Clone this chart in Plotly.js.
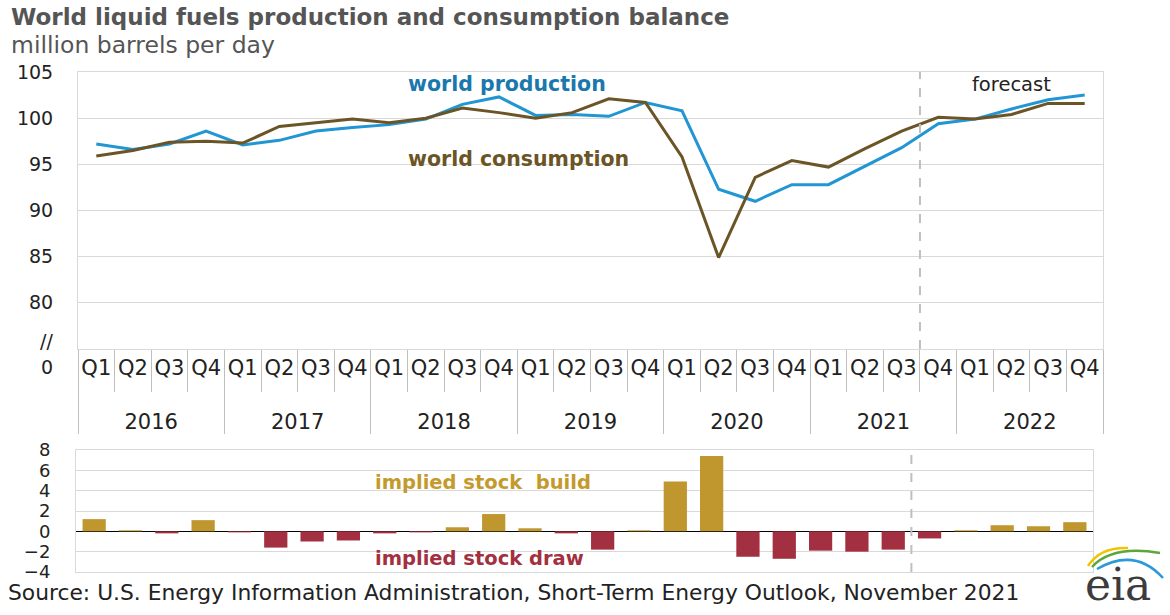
<!DOCTYPE html>
<html>
<head>
<meta charset="utf-8">
<script src="https://cdn.plot.ly/plotly-3.0.1.min.js"></script>
<style>
html,body{margin:0;padding:0;background:#fff;}
#chart{width:1170px;height:615px;}
</style>
</head>
<body>
<div id="chart"></div>
<script>
// ---- data ----
const years = ['2016','2016','2016','2016','2017','2017','2017','2017','2018','2018','2018','2018',
  '2019','2019','2019','2019','2020','2020','2020','2020','2021','2021','2021','2021','2022','2022','2022','2022'];
const quarters = ['Q1','Q2','Q3','Q4','Q1','Q2','Q3','Q4','Q1','Q2','Q3','Q4','Q1','Q2','Q3','Q4',
  'Q1','Q2','Q3','Q4','Q1','Q2','Q3','Q4','Q1','Q2','Q3','Q4'];
const production = [97.2, 96.6, 97.2, 98.6, 97.1, 97.6, 98.6, 99.0, 99.3, 99.9, 101.5, 102.3,
  100.3, 100.4, 100.2, 101.7, 100.8, 92.3, 91.0, 92.8, 92.8, 94.8, 96.8, 99.4, 99.9, 101.0, 102.0, 102.5];
const consumption = [95.9, 96.5, 97.4, 97.5, 97.3, 99.1, 99.5, 99.9, 99.5, 100.0, 101.1, 100.6,
  100.0, 100.6, 102.1, 101.7, 95.8, 84.9, 93.6, 95.4, 94.7, 96.7, 98.6, 100.1, 99.9, 100.4, 101.6, 101.6];
const stockChange = [1.2, 0.1, -0.2, 1.1, -0.1, -1.6, -1.0, -0.9, -0.2, -0.1, 0.4, 1.7,
  0.3, -0.2, -1.8, 0.1, 4.9, 7.4, -2.5, -2.7, -1.9, -2.0, -1.8, -0.7, 0.1, 0.6, 0.5, 0.9];
const topTicks = [80, 85, 90, 95, 100, 105];
const forecastBoundary = 22.5; // between 2021 Q3 and 2021 Q4

// ---- styles ----
const BLUE = '#2196d3', BROWN = '#6b5526', GOLD = '#c0962e', RED = '#a33040';
const GRID = '#d9d9d9', FONT = 'DejaVu Sans, Arial, sans-serif';

// page pixel -> paper helpers (for decorative text placement)
const M = {l:76, r:67, t:72, b:43};
const W = 1170 - M.l - M.r, H = 615 - M.t - M.b;
const px = v => (v - M.l) / W;
const py = v => (615 - M.b - v) / H;

// year row is pushed one line lower (blank first line) to sit below the quarter row
const yearRow = years.map(y => '<br>' + y);
const cat = [yearRow, quarters];
const catRange = [-0.5, quarters.length - 0.5];

const traces = [
  {x: cat, y: production, type: 'scatter', mode: 'lines', name: 'world production',
   line: {color: BLUE, width: 3}, xaxis: 'x', yaxis: 'y', hoverinfo: 'y'},
  {x: cat, y: consumption, type: 'scatter', mode: 'lines', name: 'world consumption',
   line: {color: BROWN, width: 3}, xaxis: 'x', yaxis: 'y', hoverinfo: 'y'},
  {x: cat, y: stockChange, type: 'bar', name: 'implied stock change',
   marker: {color: stockChange.map(v => v >= 0 ? GOLD : RED)},
   xaxis: 'x2', yaxis: 'y2', hoverinfo: 'y'}
];

const layout = {
  width: 1170, height: 615,
  margin: M,
  paper_bgcolor: '#fff', plot_bgcolor: '#fff',
  showlegend: false,
  bargap: 0.36,
  font: {family: FONT, color: '#222'},
  title: {text: '<b>World liquid fuels production and consumption balance</b>',
    font: {family: FONT, size: 23, color: '#555'},
    xref: 'container', yref: 'container', x: 11/1170, xanchor: 'left', y: 1 - 17/615, yanchor: 'middle'},
  xaxis: {type: 'multicategory', domain: [px(78), 1], anchor: 'y', range: catRange,
    tickson: 'boundaries', ticks: 'outside', ticklen: 42, tickcolor: '#bfbfbf', tickwidth: 1,
    tickangle: 0,
    showdividers: true, dividercolor: '#bfbfbf', dividerwidth: 1,
    showgrid: false, showline: true, mirror: true, linecolor: GRID, linewidth: 1,
    tickfont: {family: FONT, size: 21, color: '#222'}},
  yaxis: {domain: [py(349), 1], anchor: 'x', range: [75, 105], tickvals: topTicks,
    showgrid: true, gridcolor: GRID, gridwidth: 1, zeroline: false,
    showline: true, mirror: true, linecolor: GRID, linewidth: 1,
    ticks: '', ticklabelstandoff: 20,
    tickfont: {family: FONT, size: 19, color: '#222'}},
  xaxis2: {type: 'multicategory', domain: [0, px(1093)], anchor: 'y2', range: catRange,
    showticklabels: false, ticks: '', showdividers: false, showgrid: false,
    showline: true, mirror: true, linecolor: GRID, linewidth: 1},
  yaxis2: {domain: [0, py(450)], anchor: 'x2', range: [-4, 8], dtick: 2,
    showgrid: true, gridcolor: GRID, gridwidth: 1,
    zeroline: true, zerolinecolor: '#000', zerolinewidth: 1,
    showline: true, mirror: true, linecolor: GRID, linewidth: 1,
    ticks: '', ticklabelstandoff: 21,
    tickfont: {family: FONT, size: 18, color: '#222'}},
  shapes: [
    {type: 'line', xref: 'x', yref: 'y', x0: forecastBoundary, x1: forecastBoundary, y0: 75, y1: 105,
     line: {color: '#bfbfbf', width: 2, dash: 'dash'}},
    {type: 'line', xref: 'x2', yref: 'y2', x0: forecastBoundary, x1: forecastBoundary, y0: -4, y1: 8,
     line: {color: '#bfbfbf', width: 2, dash: 'dash'}},
    // eia logo arcs
    {type: 'path', xref: 'paper', yref: 'paper', layer: 'above',
     path: `M ${px(1088)} ${py(566)} Q ${px(1100)} ${py(547)} ${px(1128)} ${py(548)}`,
     line: {color: '#f2c300', width: 2.5}},
    {type: 'path', xref: 'paper', yref: 'paper', layer: 'above',
     path: `M ${px(1092)} ${py(567)} Q ${px(1112)} ${py(545)} ${px(1160)} ${py(553)}`,
     line: {color: '#5aa83a', width: 2.5}},
    {type: 'path', xref: 'paper', yref: 'paper', layer: 'above',
     path: `M ${px(1097)} ${py(569)} Q ${px(1135)} ${py(547)} ${px(1163)} ${py(578)}`,
     line: {color: '#2a9bd8', width: 2.5}}
  ],
  annotations: [
    {text: 'million barrels per day', xref: 'paper', yref: 'paper', x: px(9), y: py(45),
     xanchor: 'left', yanchor: 'middle', showarrow: false, font: {family: FONT, size: 23.5, color: '#555'}},
    {text: '//', xref: 'paper', yref: 'paper', x: px(55), y: py(341),
     xanchor: 'right', yanchor: 'middle', showarrow: false, font: {family: FONT, size: 19, color: '#222'}},
    {text: '0', xref: 'paper', yref: 'paper', x: px(55), y: py(367),
     xanchor: 'right', yanchor: 'middle', showarrow: false, font: {family: FONT, size: 19, color: '#222'}},
    {text: '<b>world production</b>', xref: 'paper', yref: 'paper', x: px(406), y: py(84),
     xanchor: 'left', yanchor: 'middle', showarrow: false, font: {family: FONT, size: 20.5, color: '#1a78ad'}},
    {text: '<b>world consumption</b>', xref: 'paper', yref: 'paper', x: px(406), y: py(159),
     xanchor: 'left', yanchor: 'middle', showarrow: false, font: {family: FONT, size: 20.5, color: BROWN}},
    {text: 'forecast', xref: 'paper', yref: 'paper', x: px(1011), y: py(84),
     xanchor: 'center', yanchor: 'middle', showarrow: false, font: {family: FONT, size: 19.5, color: '#222'}},
    {text: '<b>implied stock  build</b>', xref: 'paper', yref: 'paper', x: px(373), y: py(482),
     xanchor: 'left', yanchor: 'middle', showarrow: false, font: {family: FONT, size: 19.5, color: '#c49a2c'}},
    {text: '<b>implied stock draw</b>', xref: 'paper', yref: 'paper', x: px(373), y: py(558),
     xanchor: 'left', yanchor: 'middle', showarrow: false, font: {family: FONT, size: 19.5, color: RED}},
    {text: 'Source: U.S. Energy Information Administration, Short-Term Energy Outlook, November 2021',
     xref: 'paper', yref: 'paper', x: px(6), y: py(592), xanchor: 'left', yanchor: 'middle',
     showarrow: false, font: {family: FONT, size: 21.8, color: '#222'}},
    {text: 'eia', xref: 'paper', yref: 'paper', x: px(1118), y: py(584), xanchor: 'center', yanchor: 'middle',
     showarrow: false, font: {family: 'DejaVu Serif, Liberation Serif, serif', size: 44, color: '#3c3c3c'}}
  ]
};

Plotly.newPlot('chart', traces, layout, {displayModeBar: false, staticPlot: true});
</script>
</body>
</html>
